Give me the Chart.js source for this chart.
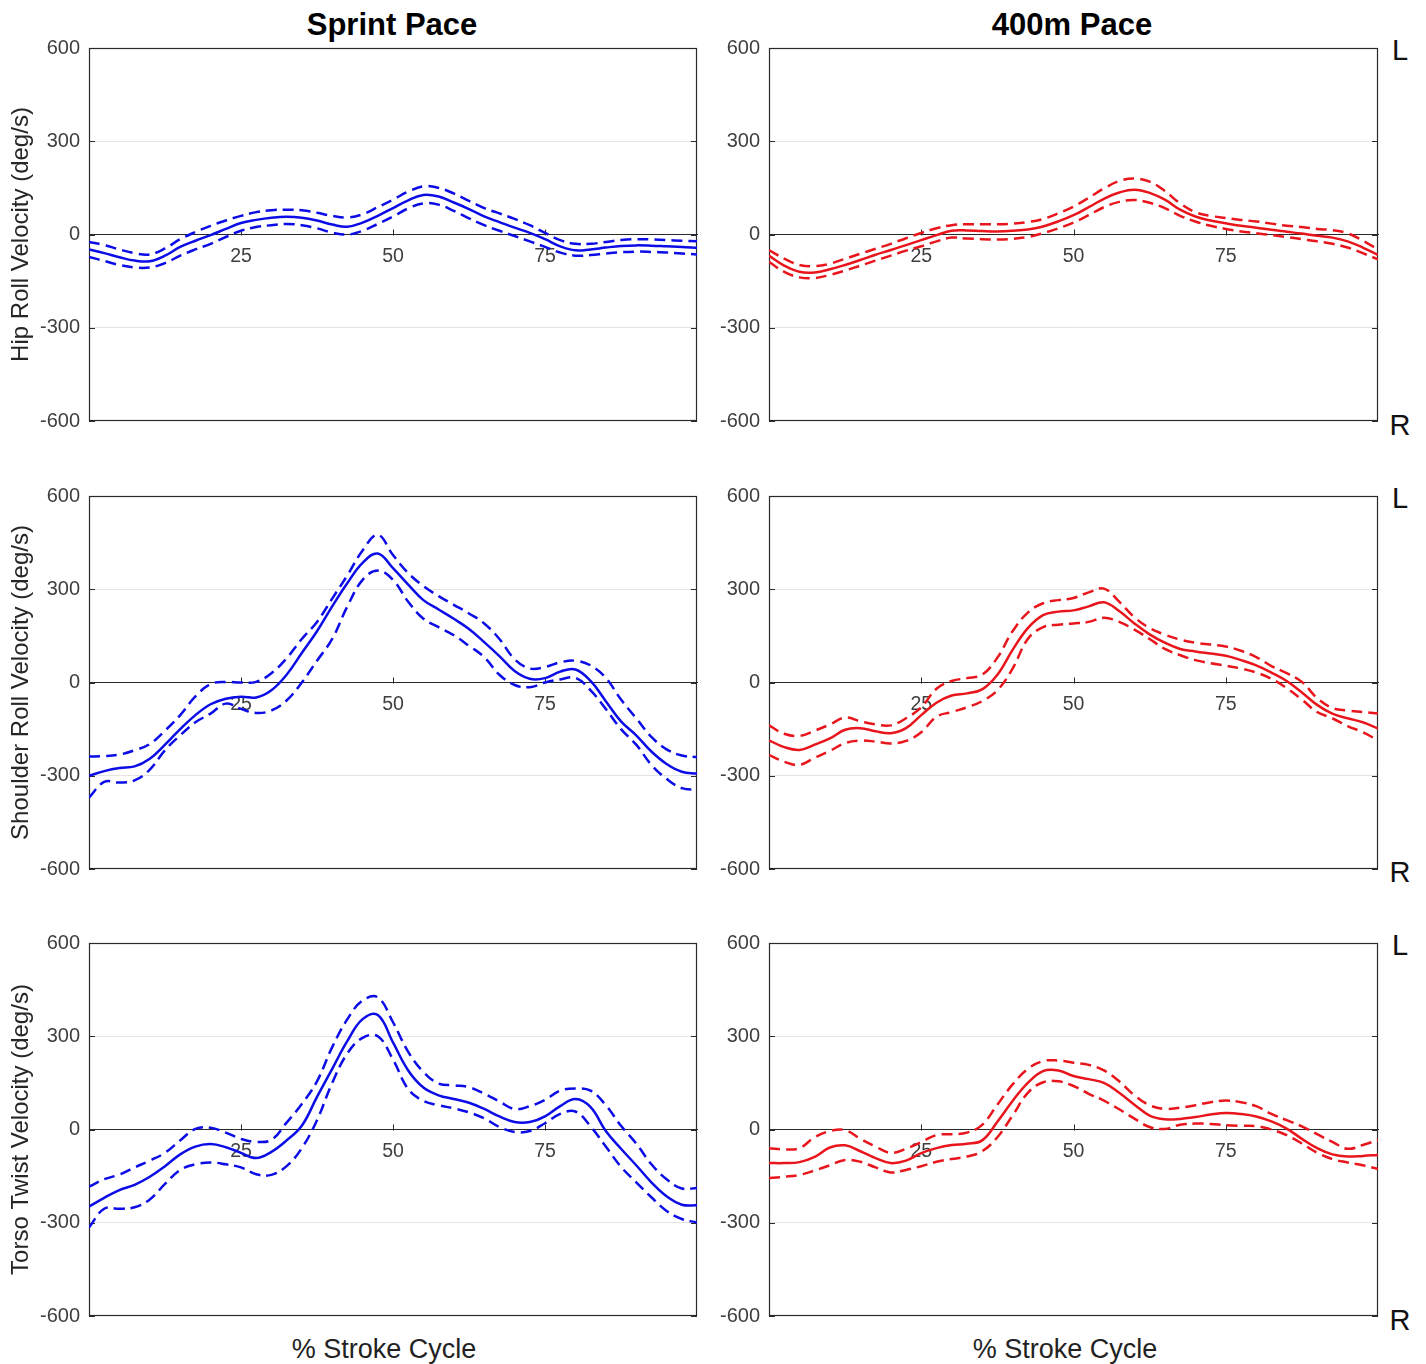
<!DOCTYPE html>
<html>
<head>
<meta charset="utf-8">
<title>Trunk rotation velocity – Sprint vs 400m pace</title>
<script src="https://cdn.jsdelivr.net/npm/chart.js@4.4.1/dist/chart.umd.min.js"></script>
<style>
  html, body { margin: 0; padding: 0; background: #fff; }
  #fig { position: relative; width: 1426px; height: 1364px; overflow: hidden;
         font-family: "Liberation Sans", Arial, Helvetica, sans-serif; color: #111; }
  #fig canvas { position: absolute; }
  .lbl { position: absolute; transform: translate(-50%, -50%); white-space: nowrap; line-height: 1; }
  .head { font-weight: bold; font-size: 31px; color: #000; }
  .side { font-size: 29px; color: #111; }
  .xt { font-size: 27px; color: #222; }
</style>
</head>
<body>
<div id="fig">
  <div class="lbl head" style="left:392px; top:24px;">Sprint Pace</div>
  <div class="lbl head" style="left:1072px; top:24px;">400m Pace</div>

  <div class="lbl side" style="left:1400px; top:50px;">L</div>
  <div class="lbl side" style="left:1400px; top:425px;">R</div>
  <div class="lbl side" style="left:1400px; top:498px;">L</div>
  <div class="lbl side" style="left:1400px; top:872px;">R</div>
  <div class="lbl side" style="left:1400px; top:945px;">L</div>
  <div class="lbl side" style="left:1400px; top:1320px;">R</div>

  <div class="lbl xt" style="left:384px; top:1349px;">% Stroke Cycle</div>
  <div class="lbl xt" style="left:1065px; top:1349px;">% Stroke Cycle</div>
</div>

<script>
// ---- shared axes -------------------------------------------------------
const pct = [0, 2.5, 5, 7.5, 10, 12.5, 15, 17.5, 20, 22.5, 25, 27.5, 30, 32.5, 35, 37.5, 40,
             42.5, 45, 47.5, 50, 52.5, 55, 57.5, 60, 62.5, 65, 67.5, 70, 72.5, 75, 77.5, 80,
             82.5, 85, 87.5, 90, 92.5, 95, 97.5, 100];
const xTicks = [25, 50, 75];
const yTicks = [-600, -300, 0, 300, 600];
const rowTitles = ['Hip Roll Velocity (deg/s)', 'Shoulder Roll Velocity (deg/s)', 'Torso Twist Velocity (deg/s)'];

// ---- hip roll velocity (deg/s) ----------------------------------------
const hipSprintMean  = [-48,-60,-73,-84,-86,-68,-40,-20,-2,18,37,47,54,57,54,45,32,25,38,60,85,110,127,122,103,82,58,40,22,5,-15,-38,-51,-48,-42,-37,-35,-36,-38,-40,-43];
const hipSprintUpper = [-24,-34,-48,-60,-64,-45,-15,8,28,45,60,72,78,80,78,70,60,55,65,88,112,138,155,150,132,108,85,68,50,30,5,-18,-30,-30,-24,-18,-15,-16,-18,-20,-22];
const hipSprintLower = [-72,-85,-98,-106,-106,-92,-68,-48,-30,-8,12,24,30,34,30,20,6,0,12,34,58,84,100,96,76,52,30,12,-5,-22,-40,-58,-68,-66,-61,-57,-55,-56,-58,-61,-64];

const hip400Mean  = [-68,-100,-120,-122,-112,-98,-82,-65,-50,-34,-18,-2,12,13,11,10,12,16,26,42,62,88,115,135,144,134,112,80,58,45,36,28,22,15,9,3,-4,-10,-22,-42,-66];
const hip400Upper = [-50,-78,-98,-102,-94,-78,-62,-46,-30,-12,5,20,30,33,33,33,35,40,50,68,90,118,148,172,180,170,140,100,72,60,53,47,42,35,28,24,18,14,4,-20,-48];
const hip400Lower = [-88,-120,-138,-140,-130,-116,-100,-84,-68,-52,-38,-22,-10,-13,-15,-16,-14,-8,4,20,38,62,88,105,111,102,85,60,42,28,18,10,4,-2,-8,-15,-22,-30,-42,-60,-80];

// ---- shoulder roll velocity (deg/s) -----------------------------------
const shoulderSprintMean  = [-300,-285,-275,-270,-245,-200,-150,-105,-70,-52,-46,-48,-25,25,95,165,245,320,385,415,368,315,265,235,205,172,130,85,37,12,14,35,42,5,-60,-125,-170,-222,-262,-287,-293];
const shoulderSprintUpper = [-238,-237,-232,-218,-198,-155,-105,-45,-5,2,0,2,30,78,140,195,270,345,425,475,410,352,310,278,250,222,190,140,75,45,50,65,70,55,15,-55,-115,-175,-215,-235,-240];
const shoulderSprintLower = [-370,-320,-322,-315,-280,-218,-170,-128,-100,-68,-85,-98,-90,-58,0,70,140,245,330,360,330,260,205,178,152,118,82,25,-8,-15,0,10,15,-25,-85,-150,-200,-265,-310,-340,-345];

const shoulder400Mean  = [-186,-208,-217,-200,-180,-152,-147,-157,-163,-147,-105,-65,-42,-35,-22,25,105,175,217,228,232,245,258,230,190,155,128,108,100,93,86,72,55,32,5,-32,-72,-100,-115,-128,-148];
const shoulder400Upper = [-138,-165,-172,-155,-135,-113,-125,-135,-138,-115,-80,-20,5,14,25,80,165,225,255,265,272,290,302,260,210,175,154,138,128,122,116,102,82,53,30,2,-50,-82,-90,-95,-100];
const shoulder400Lower = [-233,-255,-265,-242,-220,-195,-187,-190,-196,-188,-160,-110,-95,-80,-60,-25,45,140,178,186,190,195,208,195,170,140,108,88,72,62,54,45,32,12,-18,-55,-95,-115,-140,-160,-186];

// ---- torso twist velocity (deg/s) -------------------------------------
const torsoSprintMean  = [-248,-220,-195,-178,-152,-118,-80,-55,-47,-57,-75,-92,-72,-35,12,105,195,285,355,368,280,190,135,110,98,86,66,42,24,24,42,75,98,72,-5,-62,-115,-170,-215,-242,-244];
const torsoSprintUpper = [-184,-160,-145,-122,-100,-75,-35,2,6,-10,-30,-40,-33,22,82,155,265,355,415,425,345,250,185,148,142,136,115,90,66,75,95,125,132,125,78,12,-45,-112,-160,-190,-188];
const torsoSprintLower = [-315,-255,-255,-250,-225,-175,-130,-112,-106,-112,-122,-144,-146,-118,-60,30,150,245,295,300,225,130,92,78,68,55,36,8,-8,-5,20,50,58,10,-55,-120,-170,-218,-262,-288,-299];

const torso400Mean  = [-108,-108,-105,-88,-58,-51,-70,-92,-108,-100,-76,-60,-50,-46,-35,25,92,150,188,190,172,162,150,118,80,45,33,34,40,48,53,50,42,26,3,-30,-60,-80,-87,-85,-82];
const torso400Upper = [-60,-64,-60,-25,-5,-2,-30,-55,-75,-62,-40,-18,-15,-10,15,80,145,195,220,222,215,208,190,155,110,78,66,70,78,88,93,88,75,50,30,10,-15,-40,-62,-50,-34];
const torso400Lower = [-156,-152,-146,-132,-115,-98,-104,-122,-138,-130,-118,-104,-95,-87,-70,-25,45,118,152,155,140,115,93,65,35,8,2,15,19,18,14,12,11,0,-18,-45,-75,-95,-106,-115,-127];

// ---- appearance ---------------------------------------------------------
const sprintColor = '#0c0ce6';
const paceColor   = '#e8161c';
const axisColor   = '#2a2a2a';
const tickColor   = '#404040';
const gridColor   = '#e4e4e4';
const fontFamily  = '"Liberation Sans", Arial, Helvetica, sans-serif';

Chart.defaults.font.family = fontFamily;

const rowTop = [47, 495, 942];
const plotH = 375;
const cols = [
  { left: 0,   width: 712, axisW: 89, padRight: 15 },
  { left: 712, width: 714, axisW: 57, padRight: 48 }
];

const panels = [
  { row: 0, col: 0, mean: hipSprintMean,      upper: hipSprintUpper,      lower: hipSprintLower,      color: sprintColor },
  { row: 0, col: 1, mean: hip400Mean,         upper: hip400Upper,         lower: hip400Lower,         color: paceColor },
  { row: 1, col: 0, mean: shoulderSprintMean, upper: shoulderSprintUpper, lower: shoulderSprintLower, color: sprintColor },
  { row: 1, col: 1, mean: shoulder400Mean,    upper: shoulder400Upper,    lower: shoulder400Lower,    color: paceColor },
  { row: 2, col: 0, mean: torsoSprintMean,    upper: torsoSprintUpper,    lower: torsoSprintLower,    color: sprintColor },
  { row: 2, col: 1, mean: torso400Mean,       upper: torso400Upper,       lower: torso400Lower,       color: paceColor }
];

// box around the plot area plus inward-pointing tick marks (axis through the origin)
const framePlugin = {
  id: 'frame',
  beforeDatasetsDraw(chart) {
    const { ctx, chartArea: a, scales: { x, y } } = chart;
    const tl = 6;
    ctx.save();
    ctx.strokeStyle = axisColor;
    ctx.lineWidth = 1.2;
    ctx.strokeRect(a.left + 0.5, a.top + 0.5, a.right - a.left - 1, a.bottom - a.top - 1);
    ctx.lineWidth = 1;
    ctx.beginPath();
    const y0 = Math.round(y.getPixelForValue(0)) + 0.5;
    xTicks.forEach(v => {
      const px = Math.round(x.getPixelForValue(v)) + 0.5;
      ctx.moveTo(px, y0);
      ctx.lineTo(px, y0 - tl);
    });
    yTicks.forEach(v => {
      const py = Math.round(y.getPixelForValue(v)) + 0.5;
      ctx.moveTo(a.left, py);  ctx.lineTo(a.left + tl, py);
      ctx.moveTo(a.right, py); ctx.lineTo(a.right - tl, py);
    });
    ctx.stroke();
    ctx.restore();
  }
};

function series(values) {
  return values.map((v, i) => ({ x: pct[i], y: v }));
}

const fig = document.getElementById('fig');

panels.forEach(p => {
  const c = cols[p.col];
  const canvas = document.createElement('canvas');
  const top = rowTop[p.row] - 20;
  const height = plotH + 40;
  canvas.width = c.width;
  canvas.height = height;
  canvas.style.left = c.left + 'px';
  canvas.style.top = top + 'px';
  canvas.style.width = c.width + 'px';
  canvas.style.height = height + 'px';
  fig.appendChild(canvas);

  const dashed = { borderColor: p.color, borderWidth: 2.5, borderDash: [11, 6], pointRadius: 0, tension: 0.4, fill: false };
  const solid  = { borderColor: p.color, borderWidth: 2.5, pointRadius: 0, tension: 0.4, fill: false };

  new Chart(canvas, {
    type: 'line',
    data: {
      datasets: [
        Object.assign({ label: 'upper', data: series(p.upper) }, dashed),
        Object.assign({ label: 'lower', data: series(p.lower) }, dashed),
        Object.assign({ label: 'mean',  data: series(p.mean) }, solid)
      ]
    },
    options: {
      responsive: false,
      animation: false,
      devicePixelRatio: 1,
      layout: { padding: { left: 0, right: c.padRight, top: 20, bottom: 20 } },
      plugins: { legend: { display: false }, tooltip: { enabled: false } },
      scales: {
        x: {
          type: 'linear',
          min: 0, max: 100,
          position: { y: 0 },
          afterBuildTicks: s => { s.ticks = xTicks.map(v => ({ value: v })); },
          grid: { display: false, drawTicks: false },
          border: { display: true, color: axisColor, width: 1 },
          ticks: { padding: 10, color: tickColor, font: { size: 19.5 }, maxRotation: 0, autoSkip: false }
        },
        y: {
          type: 'linear',
          min: -600, max: 600,
          afterBuildTicks: s => { s.ticks = yTicks.map(v => ({ value: v })); },
          afterFit: s => { s.width = c.axisW; },
          grid: {
            drawTicks: false,
            color: ctx => (ctx.tick && Math.abs(ctx.tick.value) === 300) ? gridColor : 'rgba(0,0,0,0)'
          },
          border: { display: false },
          ticks: { padding: 9, color: tickColor, font: { size: 20 } },
          title: {
            display: p.col === 0,
            text: rowTitles[p.row],
            color: '#262626',
            font: { size: 24 },
            padding: { top: 7, bottom: 0 }
          }
        }
      }
    },
    plugins: [framePlugin]
  });
});
</script>
</body>
</html>
